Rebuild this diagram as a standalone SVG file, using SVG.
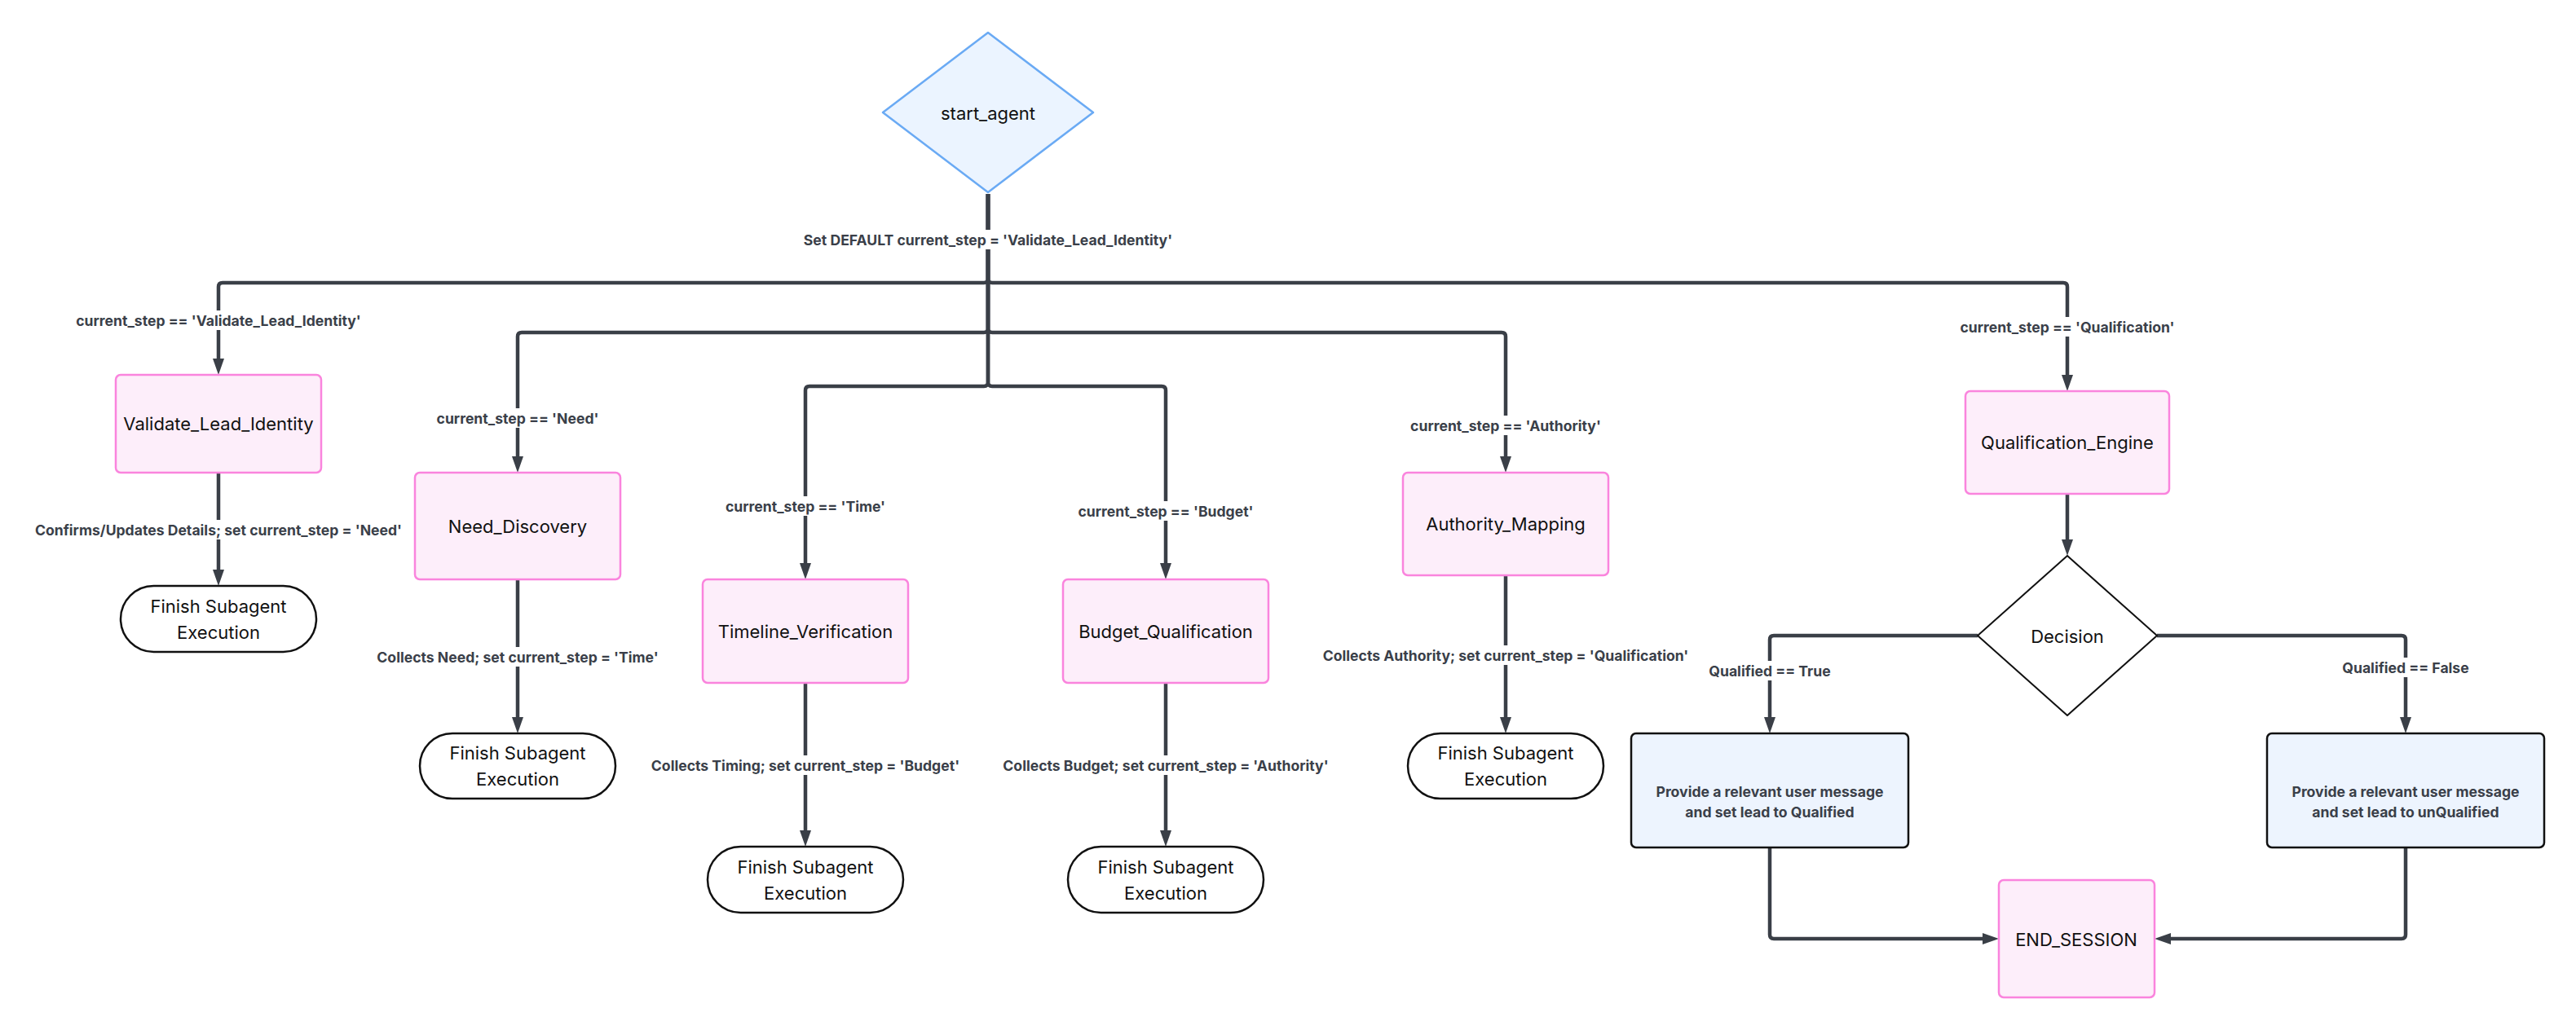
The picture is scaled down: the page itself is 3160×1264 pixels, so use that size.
<svg xmlns="http://www.w3.org/2000/svg" width="3160" height="1264" viewBox="0 0 3160 1264">
<style>
.bg{fill:#ffffff}
.pink{fill:#fdeefa;stroke:#fa84dd;stroke-width:2.5}
.blue{fill:#edf4fe;stroke:#111111;stroke-width:2.5}
.term{fill:#ffffff;stroke:#111111;stroke-width:2.5}
.start{fill:#ebf4ff;stroke:#6aaaf4;stroke-width:2.5;stroke-linejoin:round}
.dec{fill:#ffffff;stroke:#111111;stroke-width:2;stroke-linejoin:round}
.nt{font-family:Inter,"Liberation Sans",sans-serif;font-size:22px;fill:#111111;text-anchor:middle;dominant-baseline:central}
.lt{font-family:Inter,"Liberation Sans",sans-serif;font-size:17.6px;font-weight:bold;fill:#3a3f49;text-anchor:middle;dominant-baseline:central}
.edge{fill:none;stroke:#3a3f47;stroke-width:4.5}
.lbg{fill:#ffffff}
</style>
<defs>
<marker id="arr" viewBox="0 0 20 14" refX="8" refY="7" markerWidth="20" markerHeight="14" markerUnits="userSpaceOnUse" orient="auto">
<path d="M0,0 L20,7 L0,14 z" fill="#3a3f47"/>
</marker>
</defs>
<rect class="bg" x="0" y="0" width="3160" height="1264"/>

<g id="connectors">
<path class="edge" marker-end="url(#arr)" d="M1212,238 V342 Q1212,347 1207,347 H273 Q268,347 268,352 V448"/>
<path class="edge" marker-end="url(#arr)" d="M1212,238 V403 Q1212,408 1207,408 H640 Q635,408 635,413 V568"/>
<path class="edge" marker-end="url(#arr)" d="M1212,238 V469 Q1212,474 1207,474 H993 Q988,474 988,479 V699"/>
<path class="edge" marker-end="url(#arr)" d="M1212,238 V469 Q1212,474 1217,474 H1425 Q1430,474 1430,479 V699"/>
<path class="edge" marker-end="url(#arr)" d="M1212,238 V403 Q1212,408 1217,408 H1842 Q1847,408 1847,413 V568"/>
<path class="edge" marker-end="url(#arr)" d="M1212,238 V342 Q1212,347 1217,347 H2531 Q2536,347 2536,352 V468"/>
<path class="edge" marker-end="url(#arr)" d="M268,580 V707"/>
<path class="edge" marker-end="url(#arr)" d="M635,711 V888"/>
<path class="edge" marker-end="url(#arr)" d="M988,838 V1027"/>
<path class="edge" marker-end="url(#arr)" d="M1430,838 V1027"/>
<path class="edge" marker-end="url(#arr)" d="M1847,706 V888"/>
<path class="edge" marker-end="url(#arr)" d="M2536,606 V670"/>
<path class="edge" marker-end="url(#arr)" d="M2426,780 H2176 Q2171,780 2171,785 V888"/>
<path class="edge" marker-end="url(#arr)" d="M2646,780 H2946 Q2951,780 2951,785 V888"/>
<path class="edge" marker-end="url(#arr)" d="M2171,1040 V1147 Q2171,1152 2176,1152 H2440"/>
<path class="edge" marker-end="url(#arr)" d="M2951,1040 V1147 Q2951,1152 2946,1152 H2655"/>

<g id="edge-labels">
<rect class="lbg" x="981" y="282" width="458" height="24"/>
<text class="lt" x="1212" y="294">Set DEFAULT current_step = 'Validate_Lead_Identity'</text>
<rect class="lbg" x="92" y="381" width="352" height="24"/>
<text class="lt" x="268" y="393">current_step == 'Validate_Lead_Identity'</text>
<rect class="lbg" x="535" y="501" width="200" height="24"/>
<text class="lt" x="635" y="513">current_step == 'Need'</text>
<rect class="lbg" x="890" y="609" width="196" height="24"/>
<text class="lt" x="988" y="621">current_step == 'Time'</text>
<rect class="lbg" x="1322" y="615" width="216" height="24"/>
<text class="lt" x="1430" y="627">current_step == 'Budget'</text>
<rect class="lbg" x="1730" y="510" width="234" height="24"/>
<text class="lt" x="1847" y="522">current_step == 'Authority'</text>
<rect class="lbg" x="2400" y="389" width="272" height="24"/>
<text class="lt" x="2536" y="401">current_step == 'Qualification'</text>
<rect class="lbg" x="41" y="638" width="454" height="24"/>
<text class="lt" x="268" y="650">Confirms/Updates Details; set current_step = 'Need'</text>
<rect class="lbg" x="460" y="794" width="350" height="24"/>
<text class="lt" x="635" y="806">Collects Need; set current_step = 'Time'</text>
<rect class="lbg" x="790" y="927" width="396" height="24"/>
<text class="lt" x="988" y="939">Collects Timing; set current_step = 'Budget'</text>
<rect class="lbg" x="1229" y="927" width="402" height="24"/>
<text class="lt" x="1430" y="939">Collects Budget; set current_step = 'Authority'</text>
<rect class="lbg" x="1621" y="792" width="452" height="24"/>
<text class="lt" x="1847" y="804">Collects Authority; set current_step = 'Qualification'</text>
<rect class="lbg" x="2096" y="811" width="150" height="24"/>
<text class="lt" x="2171" y="823">Qualified == True</text>
<rect class="lbg" x="2872" y="807" width="158" height="24"/>
<text class="lt" x="2951" y="819">Qualified == False</text>
</g>
</g>

<g id="start_agent">
<path class="start" d="M1212,40 L1341,138 L1212,236 L1083,138 Z"/>
<text class="nt" x="1212" y="139">start_agent</text>
</g>

<g id="Validate_Lead_Identity">
<rect class="pink" x="142" y="460" width="252" height="120" rx="6"/>
<text class="nt" x="268" y="520">Validate_Lead_Identity</text>
</g>
<g id="Need_Discovery">
<rect class="pink" x="509" y="580" width="252" height="131" rx="6"/>
<text class="nt" x="635" y="646">Need_Discovery</text>
</g>
<g id="Timeline_Verification">
<rect class="pink" x="862" y="711" width="252" height="127" rx="6"/>
<text class="nt" x="988" y="775">Timeline_Verification</text>
</g>
<g id="Budget_Qualification">
<rect class="pink" x="1304" y="711" width="252" height="127" rx="6"/>
<text class="nt" x="1430" y="775">Budget_Qualification</text>
</g>
<g id="Authority_Mapping">
<rect class="pink" x="1721" y="580" width="252" height="126" rx="6"/>
<text class="nt" x="1847" y="643">Authority_Mapping</text>
</g>
<g id="Qualification_Engine">
<rect class="pink" x="2411" y="480" width="250" height="126" rx="6"/>
<text class="nt" x="2536" y="543">Qualification_Engine</text>
</g>

<g id="Finish1">
<rect class="term" x="148" y="719" width="240" height="81" rx="40.5"/>
<text class="nt" x="268" y="744">Finish Subagent</text>
<text class="nt" x="268" y="776">Execution</text>
</g>
<g id="Finish2">
<rect class="term" x="515" y="900" width="240" height="80" rx="40"/>
<text class="nt" x="635" y="924">Finish Subagent</text>
<text class="nt" x="635" y="956">Execution</text>
</g>
<g id="Finish3">
<rect class="term" x="868" y="1039" width="240" height="81" rx="40.5"/>
<text class="nt" x="988" y="1064">Finish Subagent</text>
<text class="nt" x="988" y="1096">Execution</text>
</g>
<g id="Finish4">
<rect class="term" x="1310" y="1039" width="240" height="81" rx="40.5"/>
<text class="nt" x="1430" y="1064">Finish Subagent</text>
<text class="nt" x="1430" y="1096">Execution</text>
</g>
<g id="Finish5">
<rect class="term" x="1727" y="900" width="240" height="80" rx="40"/>
<text class="nt" x="1847" y="924">Finish Subagent</text>
<text class="nt" x="1847" y="956">Execution</text>
</g>

<g id="Decision">
<path class="dec" d="M2536,682 L2646,780 L2536,878 L2426,780 Z"/>
<text class="nt" x="2536" y="781">Decision</text>
</g>

<g id="Qualified_Message">
<rect class="blue" x="2001" y="900" width="340" height="140" rx="6"/>
<text class="lt" x="2171" y="971">Provide a relevant user message</text>
<text class="lt" x="2171" y="996">and set lead to Qualified</text>
</g>
<g id="Unqualified_Message">
<rect class="blue" x="2781" y="900" width="340" height="140" rx="6"/>
<text class="lt" x="2951" y="971">Provide a relevant user message</text>
<text class="lt" x="2951" y="996">and set lead to unQualified</text>
</g>

<g id="END_SESSION">
<rect class="pink" x="2452" y="1080" width="191" height="144" rx="6"/>
<text class="nt" x="2547" y="1153">END_SESSION</text>
</g>
</svg>
